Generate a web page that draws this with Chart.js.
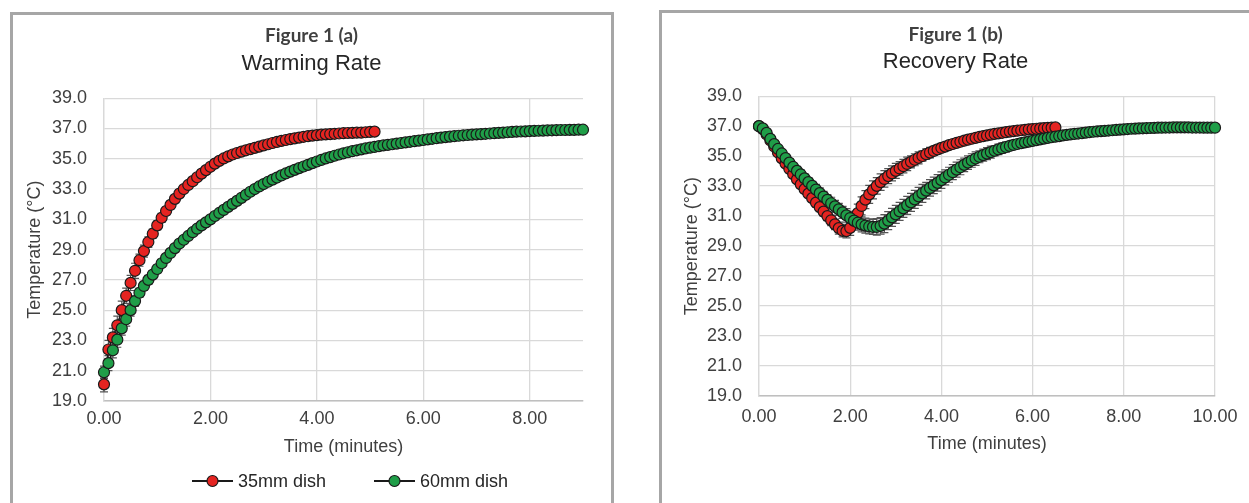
<!DOCTYPE html>
<html>
<head>
<meta charset="utf-8">
<title>Figure 1 - Warming and Recovery Rate</title>
<script src="https://cdn.jsdelivr.net/npm/chart.js@4.4.1/dist/chart.umd.min.js"></script>
<style>
  html, body { margin: 0; padding: 0; background: #fff; }
  body { width: 1249px; height: 503px; position: relative; overflow: hidden;
         font-family: "Liberation Sans", Arial, sans-serif; }
  .panel { position: absolute; border: 3px solid #a6a6a6; box-sizing: border-box; }
  #panel-a { left: 10px; top: 12px; width: 604px; height: 530px; }
  #panel-b { left: 659px; top: 10px; width: 620px; height: 530px; }
  canvas.chart { position: absolute; }
  #warming { left: 13px; top: 15px; }
  #recovery { left: 662px; top: 13px; }
  .legend { position: absolute; left: 192px; top: 470px; height: 22px;
            display: flex; align-items: center; font-size: 18px; color: #262626; }
  .legend .item { display: flex; align-items: center; margin-right: 48px; }
  .legend canvas { margin-right: 5px; }
</style>
</head>
<body>
<div class="panel" id="panel-a"></div>
<div class="panel" id="panel-b"></div>
<canvas class="chart" id="warming" width="597" height="488"></canvas>
<canvas class="chart" id="recovery" width="587" height="490"></canvas>
<div class="legend" id="legend-a"></div>

<script>
// readings every 5 seconds, temperature in °C
const SAMPLE_MIN = 5 / 60;

// Figure 1 (a) - warming from room temperature
const warm35 = [
  20.1, 22.4, 23.2, 24.0, 25.0, 25.95, 26.8, 27.6, 28.3, 28.9,
  29.5, 30.05, 30.6, 31.1, 31.55, 31.95, 32.35, 32.7, 33.0, 33.27,
  33.52, 33.78, 34.02, 34.25, 34.47, 34.68, 34.86, 35.02, 35.16, 35.28,
  35.38, 35.47, 35.56, 35.64, 35.72, 35.8, 35.88, 35.96, 36.04, 36.11,
  36.18, 36.24, 36.3, 36.35, 36.4, 36.45, 36.49, 36.53, 36.56, 36.59,
  36.61, 36.63, 36.65, 36.67, 36.69, 36.7, 36.71, 36.72, 36.73, 36.75,
  36.77, 36.79
];
const warm60 = [
  20.9, 21.5, 22.35, 23.05, 23.8, 24.4, 25.0, 25.6, 26.15, 26.6,
  27.0, 27.35, 27.72, 28.1, 28.45, 28.78, 29.1, 29.4, 29.65, 29.9,
  30.15, 30.38, 30.6, 30.8, 31.0, 31.22, 31.42, 31.62, 31.82, 32.02,
  32.22, 32.42, 32.62, 32.82, 33.0, 33.17, 33.33, 33.48, 33.62, 33.76,
  33.9, 34.03, 34.15, 34.27, 34.38, 34.49, 34.6, 34.71, 34.82, 34.92,
  35.02, 35.11, 35.2, 35.28, 35.36, 35.43, 35.5, 35.56, 35.62, 35.68,
  35.73, 35.78, 35.83, 35.88, 35.92, 35.96, 36.0, 36.04, 36.08, 36.12,
  36.16, 36.2, 36.24, 36.28, 36.32, 36.36, 36.4, 36.43, 36.46, 36.49,
  36.52, 36.55, 36.57, 36.59, 36.61, 36.63, 36.65, 36.67, 36.69, 36.71,
  36.73, 36.75, 36.77, 36.79, 36.8, 36.81, 36.83, 36.84, 36.85, 36.86,
  36.87, 36.88, 36.89, 36.9, 36.9, 36.91, 36.91, 36.92, 36.92
];
// std. deviation, only the first readings have a visible spread
const warm35Err = [0.5, 0.6, 0.6, 0.6, 0.6, 0.5, 0.5, 0.5, 0.4, 0.4,
  0.35, 0.3, 0.3, 0.3, 0.25, 0.25, 0.2, 0.2, 0.2, 0.2];
const warm60Err = [0.4, 0.5, 0.5, 0.5, 0.45, 0.45, 0.4, 0.35, 0.3, 0.3,
  0.3, 0.25, 0.25, 0.25, 0.2, 0.2, 0.2, 0.2, 0.15, 0.15];

// Figure 1 (b) - recovery after removal from the incubator
const rec35 = [
  37.0, 36.8, 36.45, 36.05, 35.65, 35.25, 34.85, 34.5, 34.15, 33.8,
  33.45, 33.12, 32.8, 32.5, 32.2, 31.9, 31.6, 31.3, 31.0, 30.72,
  30.45, 30.2, 30.02, 30.0, 30.22, 30.7, 31.2, 31.68, 32.1, 32.45,
  32.75, 33.02, 33.27, 33.48, 33.67, 33.85, 34.02, 34.18, 34.33, 34.48,
  34.62, 34.76, 34.89, 35.01, 35.13, 35.24, 35.35, 35.45, 35.55, 35.64,
  35.73, 35.81, 35.89, 35.96, 36.03, 36.1, 36.16, 36.22, 36.28, 36.33,
  36.38, 36.43, 36.48, 36.52, 36.56, 36.6, 36.64, 36.67, 36.7, 36.73,
  36.76, 36.79, 36.81, 36.83, 36.85, 36.87, 36.89, 36.9, 36.92
];
const rec60 = [
  37.0, 36.85, 36.55, 36.15, 35.8, 35.48, 35.18, 34.87, 34.57, 34.28,
  34.02, 33.78, 33.52, 33.27, 33.02, 32.77, 32.53, 32.3, 32.08, 31.86,
  31.65, 31.45, 31.25, 31.05, 30.87, 30.7, 30.56, 30.45, 30.37, 30.31,
  30.28, 30.28, 30.35, 30.5, 30.7, 30.92, 31.12, 31.32, 31.52, 31.72,
  31.92, 32.12, 32.32, 32.52, 32.7, 32.88, 33.05, 33.22, 33.4, 33.58,
  33.76, 33.93, 34.1, 34.26, 34.42, 34.57, 34.71, 34.84, 34.96, 35.07,
  35.17, 35.27, 35.36, 35.45, 35.53, 35.61, 35.68, 35.75, 35.81, 35.87,
  35.92, 35.97, 36.02, 36.07, 36.12, 36.17, 36.22, 36.26, 36.3, 36.34,
  36.38, 36.42, 36.45, 36.48, 36.51, 36.54, 36.57, 36.6, 36.63, 36.65,
  36.67, 36.69, 36.71, 36.73, 36.75, 36.77, 36.79, 36.81, 36.83, 36.84,
  36.85, 36.86, 36.87, 36.88, 36.89, 36.9, 36.9, 36.91, 36.91, 36.92,
  36.92, 36.92, 36.92, 36.92, 36.91, 36.91, 36.91, 36.9, 36.9, 36.9,
  36.9
];
const rec35Err = [
  0.1, 0.1, 0.1, 0.15, 0.15, 0.2, 0.2, 0.2, 0.2, 0.2,
  0.2, 0.25, 0.25, 0.25, 0.25, 0.3, 0.3, 0.3, 0.3, 0.35,
  0.35, 0.4, 0.4, 0.45, 0.5, 0.55, 0.6, 0.6, 0.6, 0.6,
  0.6, 0.55, 0.55, 0.55, 0.5, 0.5, 0.5, 0.45, 0.45, 0.45,
  0.4, 0.4, 0.4, 0.35, 0.35, 0.35, 0.3, 0.3, 0.3, 0.25,
  0.25, 0.25, 0.25, 0.25, 0.25, 0.2, 0.2, 0.2, 0.2, 0.2
];
const rec60Err = [
  0.1, 0.1, 0.15, 0.15, 0.2, 0.2, 0.2, 0.25, 0.25, 0.25,
  0.3, 0.3, 0.3, 0.3, 0.3, 0.35, 0.35, 0.35, 0.35, 0.4,
  0.4, 0.4, 0.4, 0.45, 0.45, 0.45, 0.5, 0.5, 0.5, 0.5,
  0.5, 0.55, 0.55, 0.6, 0.6, 0.6, 0.6, 0.6, 0.6, 0.6,
  0.6, 0.6, 0.6, 0.6, 0.55, 0.55, 0.55, 0.55, 0.55, 0.5,
  0.5, 0.5, 0.5, 0.5, 0.45, 0.45, 0.45, 0.45, 0.4, 0.4,
  0.4, 0.4, 0.35, 0.35, 0.35, 0.35, 0.3, 0.3, 0.3, 0.3,
  0.3, 0.25, 0.25, 0.25, 0.25, 0.25, 0.2, 0.2, 0.2, 0.2
];

const RED = '#e52421';
const GREEN = '#1f9e48';
const INK = '#1a1a1a';

Chart.defaults.font.family = '"Liberation Sans", Arial, sans-serif';
Chart.defaults.font.size = 18;
Chart.defaults.color = '#404040';

const toPoints = vals => vals.map((v, i) => ({ x: i * SAMPLE_MIN, y: v }));

// vertical error bars with small caps, drawn under the markers
const errorBars = {
  id: 'errorBars',
  beforeDatasetsDraw(chart) {
    const { ctx, scales: { x, y } } = chart;
    ctx.save();
    ctx.strokeStyle = '#555';
    ctx.lineWidth = 1.2;
    chart.data.datasets.forEach(ds => {
      const errs = ds.errors || [];
      ds.data.forEach((pt, i) => {
        const e = errs[i];
        if (!e) return;
        const px = x.getPixelForValue(pt.x);
        const top = y.getPixelForValue(pt.y + e);
        const bot = y.getPixelForValue(pt.y - e);
        ctx.beginPath();
        ctx.moveTo(px, top); ctx.lineTo(px, bot);
        ctx.moveTo(px - 4, top); ctx.lineTo(px + 4, top);
        ctx.moveTo(px - 4, bot); ctx.lineTo(px + 4, bot);
        ctx.stroke();
      });
    });
    ctx.restore();
  }
};

function series(label, vals, errs, color, order) {
  return {
    label,
    data: toPoints(vals),
    errors: errs,
    order,
    borderColor: INK,
    borderWidth: 1.5,
    pointRadius: 5.5,
    pointBorderWidth: 1.2,
    pointBorderColor: INK,
    pointBackgroundColor: color,
    clip: false
  };
}

function tempChart(id, opt) {
  const grid = { color: '#d9d9d9', lineWidth: 1.3, drawTicks: false };
  return new Chart(document.getElementById(id), {
    type: 'line',
    data: { datasets: opt.datasets },
    options: {
      responsive: false,
      animation: false,
      layout: { padding: { bottom: opt.bottomPad } },
      plugins: {
        legend: { display: false },
        tooltip: { enabled: false },
        title: {
          display: true, text: opt.figure, color: '#404040',
          font: { family: 'Lato', size: 19, weight: 'bold' },
          padding: { top: opt.figTop, bottom: 0 }
        },
        subtitle: {
          display: true, text: opt.title, color: '#262626',
          font: { size: 22 },
          padding: { top: opt.subTop, bottom: opt.subBottom }
        }
      },
      scales: {
        x: {
          type: 'linear', min: 0, max: opt.xMax,
          grid, border: { color: '#bfbfbf', width: 1.5 },
          ticks: { stepSize: 2, includeBounds: false, padding: opt.xTickPad,
                   callback: v => v.toFixed(2) },
          title: { display: true, text: 'Time (minutes)', padding: 0 },
          afterFit: s => { s.height = opt.xHeight; s.paddingRight = opt.rightPad; }
        },
        y: {
          min: 19, max: 39,
          grid, border: { color: '#d9d9d9', width: 1.3 },
          ticks: { stepSize: 2, padding: 17, callback: v => v.toFixed(1) },
          title: { display: true, text: 'Temperature (°C)', padding: { top: opt.yTitlePad } },
          afterFit: s => { s.width = opt.yWidth; }
        }
      }
    },
    plugins: [errorBars]
  });
}

const warming = tempChart('warming', {
  figure: 'Figure 1 (a)', title: 'Warming Rate',
  figTop: 9, subTop: 4, subBottom: 21,
  xMax: 9, xTickPad: 7, xHeight: 57, rightPad: 27, bottomPad: 45,
  yWidth: 91, yTitlePad: 11,
  datasets: [
    series('35mm dish', warm35, warm35Err, RED, 1),
    series('60mm dish', warm60, warm60Err, GREEN, 0)
  ]
});

tempChart('recovery', {
  figure: 'Figure 1 (b)', title: 'Recovery Rate',
  figTop: 10, subTop: 3, subBottom: 21,
  xMax: 10, xTickPad: 10, xHeight: 59, rightPad: 34, bottomPad: 48,
  yWidth: 97, yTitlePad: 19,
  datasets: [
    series('35mm dish', rec35, rec35Err, RED, 1),
    series('60mm dish', rec60, rec60Err, GREEN, 0)
  ]
});

// Excel style legend: line with marker, built from the datasets
function buildLegend(chart, el) {
  chart.data.datasets.forEach(ds => {
    const item = document.createElement('span');
    item.className = 'item';
    const mark = document.createElement('canvas');
    mark.width = 41; mark.height = 14;
    const c = mark.getContext('2d');
    c.strokeStyle = ds.borderColor; c.lineWidth = 2;
    c.beginPath(); c.moveTo(0, 7); c.lineTo(41, 7); c.stroke();
    c.beginPath(); c.arc(20.5, 7, 5.5, 0, Math.PI * 2);
    c.fillStyle = ds.pointBackgroundColor; c.fill();
    c.lineWidth = 1.2; c.strokeStyle = ds.pointBorderColor; c.stroke();
    const txt = document.createElement('span');
    txt.textContent = ds.label;
    item.appendChild(mark);
    item.appendChild(txt);
    el.appendChild(item);
  });
}
buildLegend(warming, document.getElementById('legend-a'));
</script>
</body>
</html>
